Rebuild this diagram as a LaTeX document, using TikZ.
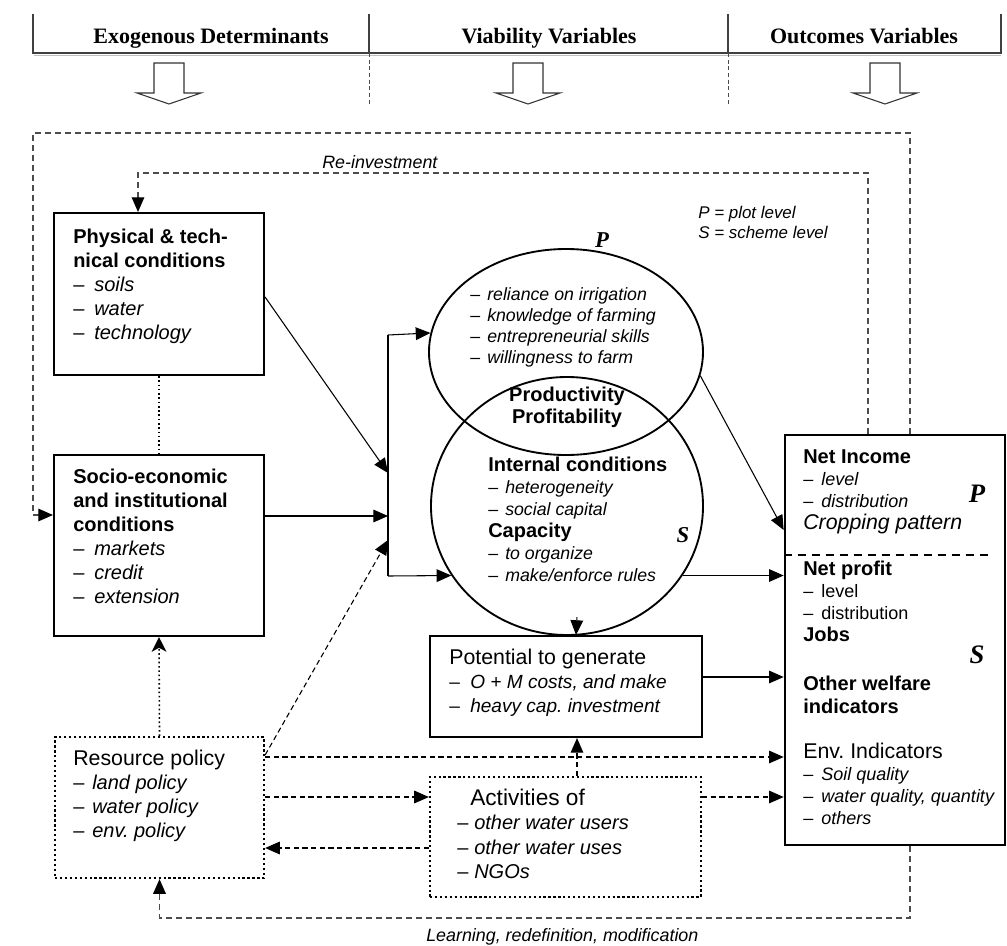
\documentclass[tikz,border=0pt]{standalone}
\usepackage{fontspec}
\setmainfont{Liberation Sans}
\newfontfamily\hdrfont{Liberation Serif}
\usetikzlibrary{fit,arrows.meta,shapes.geometric}
\newcommand\fl{\rule{0pt}{13pt}}
\newcommand\li[1]{\makebox[#1][l]{\upshape –}}
\newcommand\fs[2]{\fontsize{#1}{#2}\selectfont}
\frenchspacing
\begin{document}
\frenchspacing
\begin{tikzpicture}[x=0.75pt,y=-0.75pt,
  sbox/.style={draw, line width=1.6pt, inner sep=0pt},
  dbox/.style={draw, line width=1.7pt, dotted, inner sep=0pt},
  txt/.style={anchor=north west, align=left, inner sep=0pt},
  arr/.style={line width=0.8pt, -{Triangle[length=11pt,width=9.5pt]}},
  darr/.style={arr, dash pattern=on 4pt off 2.5pt},
  dotarr/.style={line width=1.2pt, dotted, -{Stealth[length=11pt,width=11pt,inset=3pt]}},
  loopl/.style={line width=0.8pt, black!70, dash pattern=on 4.5pt off 3pt, -{Triangle[length=11pt,width=9.5pt,color=black]}},
  hdr/.style={line width=0.8pt, black!75},
  lvl/.style={inner sep=0pt, anchor=base, font=\hdrfont\bfseries\itshape\fs{17}{17}},
  hdt/.style={anchor=base, inner sep=0pt, font=\hdrfont\bfseries\fs{16.5}{18}},
  ltxt/.style={anchor=base west, inner sep=0pt, font=\fs{13.4}{14}\itshape},
]
\useasboundingbox (0,0) rectangle (1007,946);

% ---------- header ----------
\draw[hdr] (33,14) -- (33,53) -- (1001,53) -- (1001,14);
\draw[gray!50, line width=0.8pt] (34,55.5) -- (1001,55.5);
\draw[hdr] (369,14) -- (369,53);
\draw[hdr] (728,14) -- (728,53);
\draw[line width=0.6pt, black!70, dash pattern=on 3pt off 2pt] (369,53) -- (369,104);
\draw[line width=0.6pt, black!70, dash pattern=on 3pt off 2pt] (728,53) -- (728,104);
\node[hdt] (h1) at (211,43) {Exogenous Determinants};
\node[hdt] (h2) at (549,43) {Viability Variables};
\node[hdt] (h3) at (864,43) {Outcomes Variables};
\foreach \cx in {169,528,885}
  \draw[line width=0.8pt, black!80, line join=miter]
    (\cx-15,63) -- (\cx+15,63) -- (\cx+15,93) -- (\cx+32,93) -- (\cx,104)
    -- (\cx-32,93) -- (\cx-15,93) -- cycle;

% ---------- boxes ----------
\node[sbox, fit={(54,213) (264,375)}] (phys) {};
\node[sbox, fit={(54,455) (264,636)}] (socio) {};
\node[dbox, fit={(55,737) (264,878)}] (res) {};
\node[sbox, fit={(430,636) (702,737)}] (pot) {};
\node[dbox, fit={(430,777) (701,897)}] (act) {};
\node[draw, line width=2pt, inner sep=0pt, fit={(785,435) (1005,845)}] (rb) {};
\node[ellipse, draw, line width=1.4pt, inner sep=0pt, minimum width=205.5pt, minimum height=154.5pt] (ellP) at (566,352) {};
\node[ellipse, draw, line width=1.4pt, inner sep=0pt, minimum width=204pt, minimum height=193.5pt] (circS) at (567,506) {};

% ---------- texts ----------
\node[txt, font=\fs{15}{18}] (physT) at (73,225.7) {\fl\textbf{Physical \& tech-}\\\textbf{nical conditions}\\\li{15.75pt}\textit{soils}\\\li{15.75pt}\textit{water}\\\li{15.75pt}\textit{technology}};
\node[txt, font=\fs{15}{18}] (socioT) at (73,465.7) {\fl\textbf{Socio-economic}\\\textbf{and institutional}\\\textbf{conditions}\\\li{15.75pt}\textit{markets}\\\li{15.75pt}\textit{credit}\\\li{15.75pt}\textit{extension}};
\node[txt, font=\fs{13.3}{15.75}\itshape] (ellPT) at (470,282.7) {\fl\li{12.75pt}reliance on irrigation\\\li{12.75pt}knowledge of farming\\\li{12.75pt}entrepreneurial skills\\\li{12.75pt}willingness to farm};
\node[anchor=north, align=center, inner sep=0pt, font=\fs{15}{16.5}\bfseries] (prodT) at (567,383.7) {\fl Productivity\\Profitability};
\node[txt, font=\fs{15}{16.5}] (intT) at (488,453.7) {\fl\textbf{Internal conditions}\\{\fs{13.3}{15}\li{12.75pt}\itshape heterogeneity}\\{\fs{13.3}{15}\li{12.75pt}\itshape social capital}\\\textbf{Capacity}\\{\fs{13.3}{15}\li{12.75pt}\itshape to organize}\\{\fs{13.3}{15}\li{12.75pt}\itshape make/enforce rules}};
\node[txt, font=\fs{16}{18}] (potT) at (449,646.7) {\fl Potential to generate\\{\fs{14.3}{18}\li{15.75pt}\itshape O + M costs, and make}\\{\fs{14.3}{18}\li{15.75pt}\itshape heavy cap.\ investment}};
\node[txt, font=\fs{16}{18}] (resT) at (73,747.7) {\fl Resource policy\\{\fs{15}{18}\li{14.25pt}\itshape land policy}\\{\fs{15}{18}\li{14.25pt}\itshape water policy}\\{\fs{15}{18}\li{14.25pt}\itshape env.\ policy}};
\node[txt, font=\fs{15}{18.4}] (actT) at (457,787.7) {\fl\hspace{9.75pt}{\fs{17}{18}Activities of}\\{\li{12.75pt}\itshape other water users}\\{\li{12.75pt}\itshape other water uses}\\{\li{12.75pt}\itshape NGOs}};
\node[txt, font=\fs{15}{16.5}] (rbPT) at (803,445.7) {\fl\textbf{Net Income}\\{\fs{13.5}{15}\li{13.5pt}\itshape level}\\{\fs{13.5}{15}\li{13.5pt}\itshape distribution}\\{\fs{16}{16}\itshape Cropping pattern}};
\node[txt, font=\fs{15}{16.5}] (rbS1T) at (803,557.7) {\fl\textbf{Net profit}\\{\fs{13.5}{15}\li{13.5pt}level}\\{\fs{13.5}{15}\li{13.5pt}distribution}\\\textbf{Jobs}};
\node[txt, font=\fs{15}{17.25}\bfseries] (rbS2T) at (803,672.7) {\fl Other welfare\\indicators};
\node[txt, font=\fs{15}{16.5}] (rbS3T) at (803,740.7) {\fl{\fs{16}{16}Env.\ Indicators}\\{\fs{13.5}{15}\li{13.5pt}\itshape Soil quality}\\{\fs{13.5}{15}\li{13.5pt}\itshape water quality, quantity}\\{\fs{13.5}{15}\li{13.5pt}\itshape others}};

\node[lvl] (pTop) at (602,247) {P};
\node[lvl] (sEll) at (683,542) {S};
\node[lvl, font=\hdrfont\bfseries\itshape\fs{20}{20}] (pRb) at (977,502) {P};
\node[lvl, font=\hdrfont\bfseries\itshape\fs{20}{20}] (sRb) at (977,663) {S};
\node[anchor=base west, inner sep=0pt, font=\fs{12.7}{14}\itshape] (legP) at (698,218) {P = plot level};
\node[anchor=base west, inner sep=0pt, font=\fs{12.7}{14}\itshape] (legS) at (698,238) {S = scheme level};
\node[ltxt] (reinv) at (322,168) {Re-investment};
\node[ltxt] (learn) at (426,941) {Learning, redefinition, modification};

% right box separator
\draw[line width=1.5pt, dash pattern=on 6pt off 4.5pt] (rb.west |- 0,555) -- (993,555);

% ---------- connectors ----------
\coordinate (barT) at (388,335);
\coordinate (barB) at (388,576);
\coordinate (barP) at (388,473);
\coordinate (barS) at (388,516);
\coordinate (barR) at (388,540);

\draw[loopl] (rb.north -| 910,0) |- (33,133) |- (socio.west |- 0,515);
\draw[loopl] (rb.north -| 868,0) |- (138,173) -- (phys.north -| 138,0);
\draw[loopl] (rb.south -| 910,0) |- (159.5,918) -- (res.south);

\draw[line width=0.8pt] (barT) -- (barB);
\draw[arr] (barT) -- (ellP.172.8);
\draw[arr] (barB) -- (circS.211.5);
\draw[arr] (phys.east |- 0,297) -- (barP);
\draw[arr] (socio.east |- barS) -- (barS);
\draw[darr] (res.east |- 0,755) -- (barR);

\draw[line width=1.2pt, dotted] (phys.south) -- (socio.north);
\draw[dotarr] (res.north) -- (socio.south);

\draw[arr] (ellP.-10) -- (rb.west |- 0,530);
\draw[arr] (circS.-31) -- (rb.west |- circS.-31);
\draw[arr] ([xshift=7.5pt,yshift=14pt]circS.south) -- ([xshift=7.5pt]pot.north);
\draw[arr] (pot.east |- 0,677) -- (rb.west |- 0,677);

\draw[darr] (res.east |- 0,757) -- (rb.west |- 0,757);
\draw[darr] (res.east |- 0,797) -- (act.west |- 0,797);
\draw[darr] (act.west |- 0,848) -- (res.east |- 0,848);
\draw[darr] (act.north -| 577,0) -- (pot.south -| 577,0);
\draw[darr] (act.east |- 0,797) -- (rb.west |- 0,797);
\end{tikzpicture}
\end{document}
